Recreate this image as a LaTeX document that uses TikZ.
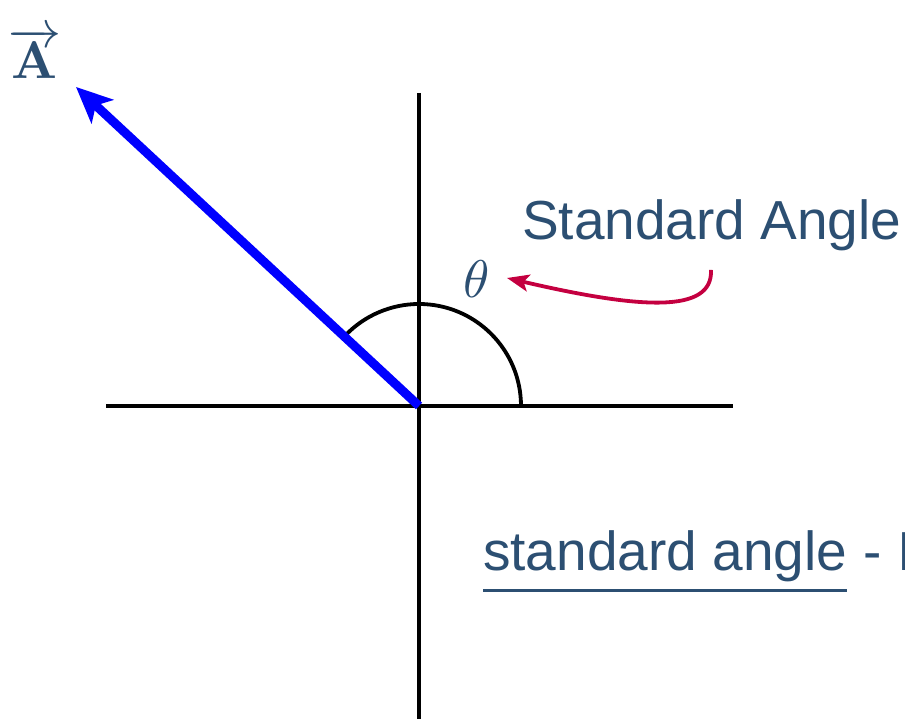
\documentclass[tikz,border=0pt]{standalone}
\usepackage{graphicx}
\usepackage[no-math]{fontspec}
\setmainfont{Liberation Sans}
\usetikzlibrary{arrows.meta}
\definecolor{txtblue}{RGB}{44,79,114}
\definecolor{vecblue}{RGB}{0,0,255}
\definecolor{crim}{RGB}{196,0,64}
\tikzset{
  axis/.style={line width=3.8pt, black},
  vecline/.style={line width=9pt, vecblue, -{Stealth[length=36pt, width=32pt, inset=9pt]}},
  pointer/.style={line width=3.8pt, crim, -{Stealth[length=22pt, width=17pt, inset=5pt]}},
  lbl/.style={inner sep=0pt, text=txtblue, font=\fontsize{55}{66}\selectfont},
  mathlbl/.style={inner sep=0pt, text=txtblue, font=\normalsize},
}
\begin{document}
\begin{tikzpicture}[x=1pt,y=1pt]
\useasboundingbox (0,0) rectangle (905,719);
\begin{scope}
\clip (0,0) rectangle (905,719);
\coordinate (O) at (419,313);
\coordinate (xl) at (106,313);
\coordinate (xr) at (733,313);
\coordinate (yt) at (419,626);
\coordinate (yb) at (419,-5);
\coordinate (tip) at (76,632);
\draw[axis] (xl) -- (xr);
\draw[axis] (yt) -- (yb);
\draw[axis] (521,313) arc[start angle=0, end angle=136, radius=102];
\draw[vecline] (O) -- (tip);
\node[mathlbl] (A) at (35,666) {\scalebox{5.3}{$\overrightarrow{\mathbf{A}}$}};
\node[mathlbl] (th) at (477,440) {\scalebox{5.3}{$\theta$}};
\node[lbl, anchor=base west] (std) at (522,479) {Standard Angle};
\coordinate (ps) at (711,449);
\coordinate (pe) at (507,441);
\draw[pointer] (ps) .. controls (713,405) and (640,410) .. (pe);
\node[lbl, anchor=base west] (sa) at (483,148) {standard angle};
\node[lbl, anchor=base west] (rest) at ([xshift=16pt]sa.base east) {- I};
\draw[line width=3pt, txtblue] ([yshift=-20pt]sa.base west) -- ([yshift=-20pt]sa.base east);
\end{scope}
\end{tikzpicture}
\end{document}
